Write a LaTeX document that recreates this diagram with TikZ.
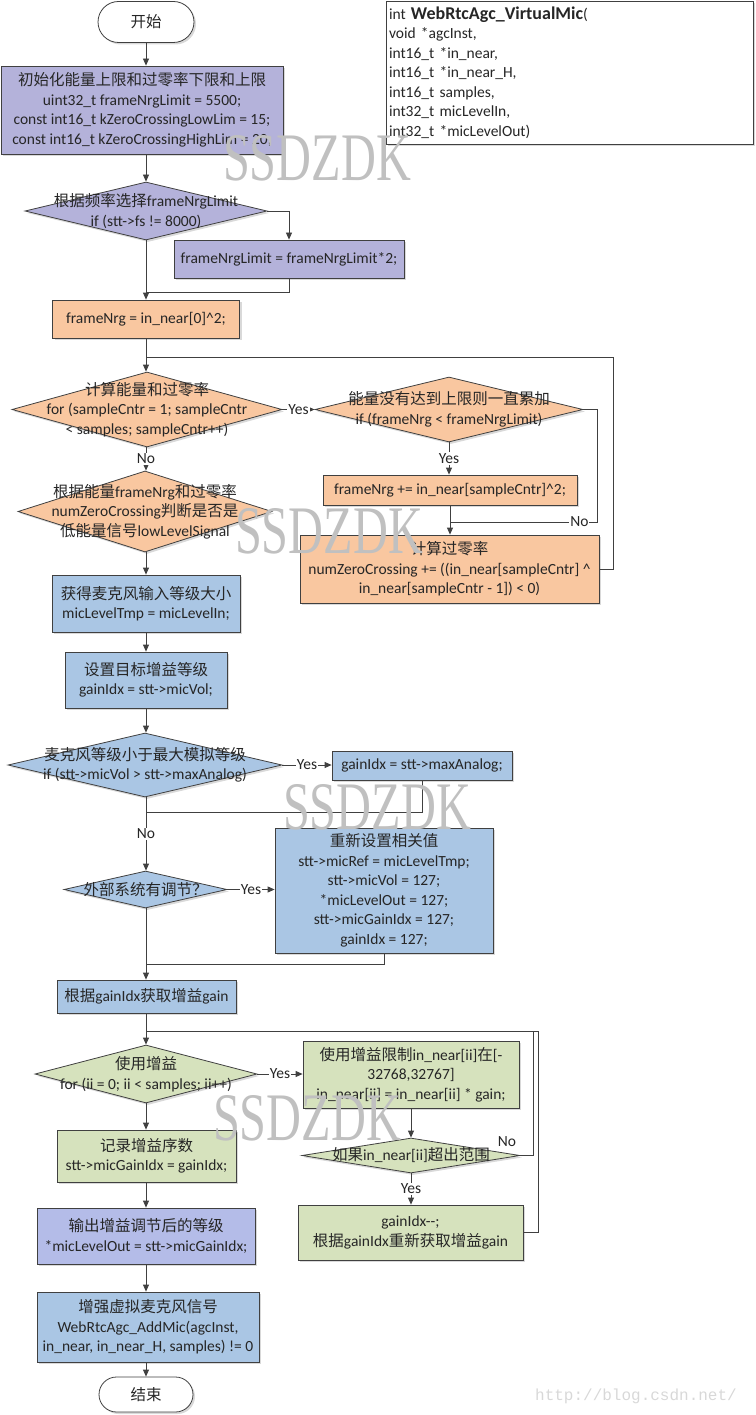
\documentclass[tikz,border=0pt]{standalone}
\usepackage{fontspec}
\setmainfont{Carlito}
\newfontfamily\cjk{Noto Sans CJK SC}
\newfontfamily\wmfont{Liberation Serif}
\newfontfamily\urlfont{Liberation Mono}
\usetikzlibrary{shapes.geometric,shapes.misc,arrows.meta,shadows}
\newcommand{\zh}[1]{{\cjk #1}}

\definecolor{linegray}{HTML}{404040}
\definecolor{purplefill}{HTML}{B4B2DA}
\definecolor{orangefill}{HTML}{F9C7A0}
\definecolor{bluefill}{HTML}{AAC6E4}
\definecolor{greenfill}{HTML}{D6E2BD}
\definecolor{lavfill}{HTML}{B4BCE8}
\definecolor{wmgray}{HTML}{C0C0C0}
\definecolor{urlgray}{HTML}{D8D8D8}

\tikzset{
  every node/.style={font=\fontsize{15.5}{19.5}\selectfont, text=black!85},
  boxshadow/.style={drop shadow={shadow xshift=2pt,shadow yshift=-2pt,opacity=0.3}},
  proc/.style={rectangle, draw=linegray, line width=0.8pt, align=center, inner sep=2pt, boxshadow},
  term/.style={rounded rectangle, draw=linegray, line width=0.8pt, fill=white, inner sep=0pt, boxshadow},
  dec/.style={diamond, draw=linegray, line width=0.8pt, inner sep=0pt, boxshadow},
  arr/.style={draw=linegray, line width=0.8pt, -{Triangle[length=7pt,width=6pt]}},
  ln/.style={draw=linegray, line width=0.8pt},
  lbl/.style={fill=white, inner sep=1pt},
  wm/.style={font=\wmfont\fontsize{68}{68}\selectfont, text=wmgray, inner sep=0pt},
}

\begin{document}
\begin{tikzpicture}[x=1pt,y=-1pt]
\useasboundingbox (0,0) rectangle (755,1415);

% 函数原型
\node[proc, fill=white, text width=361pt, align=left, minimum height=143pt, inner sep=3pt] (func) at (569.5,72.5)
  {int {\fontsize{18}{19.5}\selectfont\bfseries WebRtcAgc\_VirtualMic}(\\void *agcInst,\\int16\_t *in\_near,\\int16\_t *in\_near\_H,\\int16\_t samples,\\int32\_t micLevelIn,\\int32\_t *micLevelOut)};

% 主流程
\node[term, minimum width=96pt, minimum height=41pt] (start) at (146,22) {\zh{开始}};
\node[proc, fill=purplefill, minimum width=282pt, minimum height=88pt] (init) at (142,110)
  {\zh{初始化能量上限和过零率下限和上限}\\uint32\_t frameNrgLimit = 5500;\\const int16\_t kZeroCrossingLowLim = 15;\\const int16\_t kZeroCrossingHighLim = 20,};
\node[dec, fill=purplefill, minimum width=242pt, minimum height=58pt,
  label={[align=center]center:{\zh{根据频率选择}frameNrgLimit\\if (stt->fs != 8000)}}] (d1) at (146,211) {};
\node[proc, fill=purplefill, minimum width=230pt, minimum height=38pt] (fnl2) at (289,259) {frameNrgLimit = frameNrgLimit*2;};
\node[proc, fill=orangefill, minimum width=187pt, minimum height=38pt] (fnrg) at (146,319) {frameNrg = in\_near[0]\textasciicircum 2;};

% 能量和过零率循环
\node[dec, fill=orangefill, minimum width=270pt, minimum height=75pt,
  label={[align=center]center:{\zh{计算能量和过零率}\\for (sampleCntr = 1; sampleCntr\\< samples; sampleCntr++)}}] (d2) at (147,409.5) {};
\node[dec, fill=orangefill, minimum width=268pt, minimum height=65pt,
  label={[align=center]center:{\zh{能量没有达到上限则一直累加}\\if (frameNrg < frameNrgLimit)}}] (d3) at (449,409.5) {};
\node[proc, fill=orangefill, minimum width=254pt, minimum height=30pt] (acc) at (450,490) {frameNrg += in\_near[sampleCntr]\textasciicircum 2;};
\node[proc, fill=orangefill, minimum width=299pt, minimum height=68pt] (zc) at (449.5,569)
  {\zh{计算过零率}\\numZeroCrossing += ((in\_near[sampleCntr] \textasciicircum\\in\_near[sampleCntr - 1]) < 0)};
\node[dec, fill=orangefill, minimum width=254pt, minimum height=81pt,
  label={[align=center]center:{\zh{根据能量}frameNrg\zh{和过零率}\\numZeroCrossing\zh{判断是否是}\\\zh{低能量信号}lowLevelSignal}}] (d4) at (145,511.5) {};

% 麦克风等级
\node[proc, fill=bluefill, minimum width=188pt, minimum height=57pt] (mic) at (146,603.5) {\zh{获得麦克风输入等级大小}\\micLevelTmp = micLevelIn;};
\node[proc, fill=bluefill, minimum width=162pt, minimum height=56pt] (tgt) at (146,680) {\zh{设置目标增益等级}\\gainIdx = stt->micVol;};
\node[dec, fill=bluefill, minimum width=274pt, minimum height=64pt,
  label={[align=center]center:{\zh{麦克风等级小于最大模拟等级}\\if (stt->micVol > stt->maxAnalog)}}] (d7) at (145,765) {};
\node[proc, fill=bluefill, minimum width=180pt, minimum height=29pt] (maxa) at (422,765.5) {gainIdx = stt->maxAnalog;};
\node[dec, fill=bluefill, minimum width=163pt, minimum height=37pt,
  label={[align=center]center:{\zh{外部系统有调节？}}}] (d8) at (145.5,889.5) {};
\node[proc, fill=bluefill, minimum width=218pt, minimum height=125pt] (reset) at (384,890.5)
  {\zh{重新设置相关值}\\stt->micRef = micLevelTmp;\\stt->micVol = 127;\\{}*micLevelOut = 127;\\stt->micGainIdx = 127;\\gainIdx = 127;};
\node[proc, fill=bluefill, minimum width=179pt, minimum height=33pt] (gain) at (146.5,996.5) {\zh{根据}gainIdx\zh{获取增益}gain};

% 增益循环
\node[dec, fill=greenfill, minimum width=222pt, minimum height=58pt,
  label={[align=center]center:{\zh{使用增益}\\for (ii = 0; ii < samples; ii++)}}] (d10) at (146,1074) {};
\node[proc, fill=greenfill, minimum width=216pt, minimum height=67pt] (lim) at (411,1074.5)
  {\zh{使用增益限制}in\_near[ii]\zh{在}[-\\32768,32767]\\in\_near[ii] = in\_near[ii] * gain;};
\node[dec, fill=greenfill, minimum width=218pt, minimum height=35pt,
  label={[align=center]center:{\zh{如果}in\_near[ii]\zh{超出范围}}}] (d12) at (411,1155.5) {};
\node[proc, fill=greenfill, minimum width=225pt, minimum height=55pt] (decr) at (410.5,1232.5)
  {gainIdx-{}-;\\\zh{根据}gainIdx\zh{重新获取增益}gain};
\node[proc, fill=greenfill, minimum width=179pt, minimum height=52pt] (rec) at (146.5,1156) {\zh{记录增益序数}\\stt->micGainIdx = gainIdx;};
\node[proc, fill=lavfill, minimum width=218pt, minimum height=56pt] (out) at (146,1236) {\zh{输出增益调节后的等级}\\{}*micLevelOut = stt->micGainIdx;};
\node[proc, fill=bluefill, minimum width=222pt, minimum height=70pt] (add) at (148,1327)
  {\zh{增强虚拟麦克风信号}\\WebRtcAgc\_AddMic(agcInst,\\in\_near, in\_near\_H, samples) != 0};
\node[term, minimum width=94pt, minimum height=35pt] (end) at (146,1394.5) {\zh{结束}};

% 汇合点
\coordinate (j1) at (146,292);
\coordinate (j2) at (146,357);
\coordinate (lp1) at (613,357);
\coordinate (n3) at (597,522);
\coordinate (j3) at (450,522);
\coordinate (j4) at (146,812);
\coordinate (j5) at (146,964);
\coordinate (j6) at (146,1031);
\coordinate (lp2) at (533,1031);
\coordinate (lp3) at (538,1031);

% 连线
\draw[arr] (start.south) -- (start.south |- init.north);
\draw[arr] (start.south |- init.south) -- (d1.north);
\draw[arr] (d1.east) -| (fnl2.north);
\draw[ln] (fnl2.south) |- (j1);
\draw[arr] (d1.south) -- (d1.south |- fnrg.north);
\draw[arr] (fnrg.south) -- (fnrg.south |- d2.north);
\draw[ln] (zc.east) -| (lp1) -- (j2);
\draw[arr] (d2.east) -- node[lbl]{Yes} (d3.west);
\draw[arr] (d2.south -| j2) -- node[lbl]{No} (d4.north -| j2);
\draw[arr] (d3.south) -- node[lbl]{Yes} (d3.south |- acc.north);
\draw[arr] (acc.south) -- (acc.south |- zc.north);
\draw[ln] (d3.east) -| (n3) -- node[lbl, pos=0.12]{No} (j3);
\draw[arr] (d4.south -| j2) -- (mic.north);
\draw[arr] (mic.south) -- (tgt.north);
\draw[arr] (tgt.south) -- (tgt.south |- d7.north);
\draw[arr] (d7.east) -- node[lbl]{Yes} (d7.east -| maxa.west);
\draw[ln] (maxa.south) |- (j4);
\draw[arr] (d7.south -| j4) -- node[lbl]{No} (d8.north -| j4);
\draw[arr] (d8.east) -- node[lbl]{Yes} (d8.east -| reset.west);
\draw[ln] (reset.south) |- (j5);
\draw[arr] (d8.south -| j5) -- (gain.north -| j5);
\draw[arr] (gain.south -| j6) -- (d10.north -| j6);
\draw[arr] (d10.east) -- node[lbl]{Yes} (d10.east -| lim.west);
\draw[arr] (lim.south) -- (lim.south |- d12.north);
\draw[ln] (d12.east) -| (lp2) -- (j6);
\node (no12) at (507,1142) {No};
\draw[arr] (d12.south) -- node[lbl]{Yes} (d12.south |- decr.north);
\draw[ln] (decr.east) -| (lp3) -- (lp2);
\draw[arr] (d10.south -| j6) -- (rec.north -| j6);
\draw[arr] (rec.south -| j6) -- (out.north -| j6);
\draw[arr] (out.south -| j6) -- (add.north -| j6);
\draw[arr] (add.south -| j6) -- (end.north -| j6);

% 水印
\node[wm] (wm1) at (317,158) {\scalebox{0.71}[1]{SSDZDK}};
\node[wm] (wm2) at (329,531) {\scalebox{0.71}[1]{SSDZDK}};
\node[wm] (wm3) at (377,807) {\scalebox{0.71}[1]{SSDZDK}};
\node[wm] (wm4) at (307,1118) {\scalebox{0.71}[1]{SSDZDK}};
\node[font=\urlfont\fontsize{16}{16}\selectfont, text=urlgray] (url) at (636,1396) {http://blog.csdn.net/};
\end{tikzpicture}
\end{document}
